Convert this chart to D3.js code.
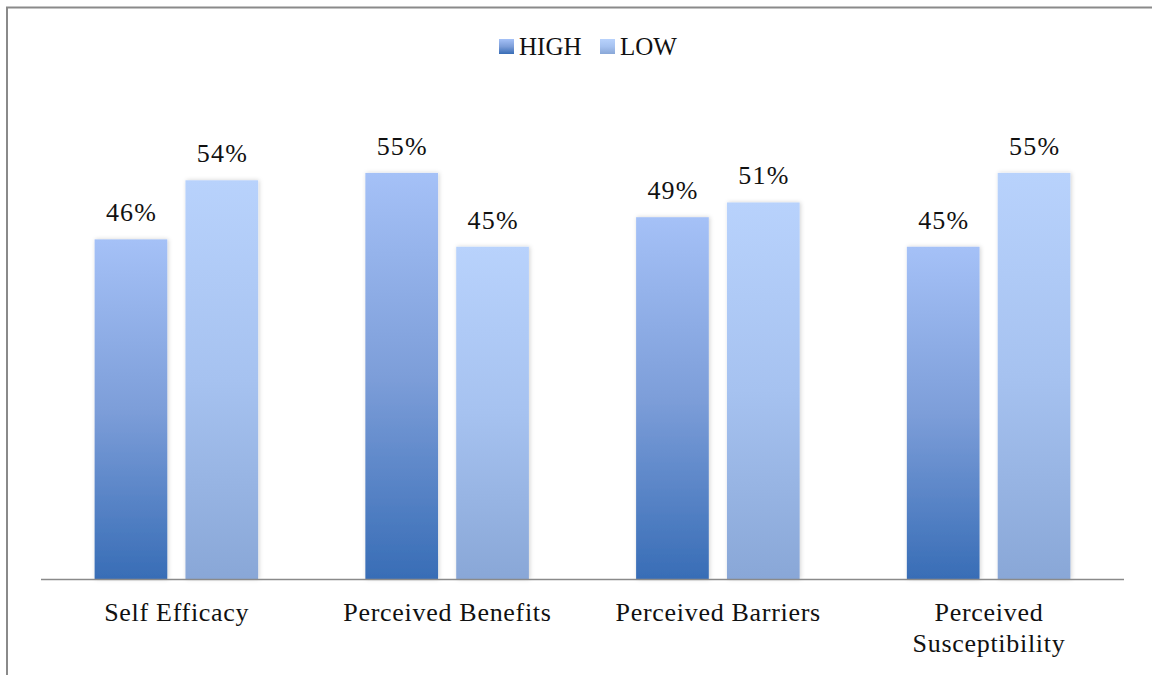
<!DOCTYPE html>
<html>
<head>
<meta charset="utf-8">
<script src="https://cdn.jsdelivr.net/npm/d3@7"></script>
<style>
  html, body { margin: 0; padding: 0; background: #fff; }
  svg { display: block; }
  text { font-family: "Liberation Serif", "Times New Roman", serif; fill: #111; }
</style>
</head>
<body>
<svg id="chart" width="1152" height="675"></svg>
<script>
// Health-belief constructs and share of respondents in each group
const categories = ["Self Efficacy", "Perceived Benefits", "Perceived Barriers", "Perceived Susceptibility"];
const seriesNames = ["HIGH", "LOW"];
const highValues = [46, 55, 49, 45];
const lowValues = [54, 45, 51, 55];

const W = 1152, H = 675;
const plot = { left: 41, right: 1124, top: 136, bottom: 579 };

const svg = d3.select("#chart");

// gradient fills, one per series, applied per bar (top light -> bottom dark)
const defs = svg.append("defs");
const gradStops = {
  HIGH: [["0%", "#a5c1f7"], ["50%", "#7d9ed9"], ["100%", "#386db6"]],
  LOW:  [["0%", "#b8d2fc"], ["50%", "#a6c2f0"], ["100%", "#89a7d7"]]
};
seriesNames.forEach(s => {
  const g = defs.append("linearGradient")
    .attr("id", "grad-" + s)
    .attr("x1", 0).attr("y1", 0).attr("x2", 0).attr("y2", 1);
  gradStops[s].forEach(([o, c]) => g.append("stop").attr("offset", o).attr("stop-color", c));
});
const shadow = defs.append("filter").attr("id", "soft").attr("x", "-20%").attr("y", "-5%").attr("width", "140%").attr("height", "110%");
shadow.append("feDropShadow").attr("dx", 1).attr("dy", 0).attr("stdDeviation", 2)
  .attr("flood-color", "#000").attr("flood-opacity", 0.18);

// outer frame (top and left edges visible)
svg.append("path")
  .attr("d", `M7,${H + 5} V7.5 H${W + 5}`)
  .attr("fill", "none").attr("stroke", "#8a8a8a").attr("stroke-width", 2);

const x0 = d3.scaleBand().domain(categories).range([plot.left, plot.right]).paddingInner(0).paddingOuter(0);
const x1 = d3.scaleBand().domain(seriesNames).range([0, x0.bandwidth()]).paddingInner(0.2).paddingOuter(0.59);
const y = d3.scaleLinear().domain([0, 60]).range([plot.bottom, plot.top]);

const rows = categories.map((c, i) => ({ cat: c, vals: [
  { s: "HIGH", v: highValues[i] }, { s: "LOW", v: lowValues[i] }
]}));

const groups = svg.append("g").selectAll("g").data(rows).join("g")
  .attr("transform", d => `translate(${x0(d.cat)},0)`);

groups.selectAll("rect").data(d => d.vals).join("rect")
  .attr("x", d => x1(d.s))
  .attr("y", d => y(d.v))
  .attr("width", x1.bandwidth())
  .attr("height", d => y(0) - y(d.v))
  .attr("fill", d => `url(#grad-${d.s})`)
  .attr("filter", "url(#soft)");

groups.selectAll("text.val").data(d => d.vals).join("text")
  .attr("class", "val")
  .attr("x", d => x1(d.s) + x1.bandwidth() / 2 + 0.6)
  .attr("y", d => y(d.v) - 18)
  .attr("text-anchor", "middle")
  .attr("font-size", 26)
  .attr("letter-spacing", 1.2)
  .text(d => d.v + "%");

// category axis
const xAxis = d3.axisBottom(x0).tickSize(0).tickPadding(0);
const axisG = svg.append("g").attr("transform", `translate(0,${plot.bottom})`).call(xAxis);
axisG.select(".domain").attr("stroke", "#8a8a8a").attr("stroke-width", 1.5)
  .attr("d", `M${plot.left},0.5H${plot.right}`);
axisG.selectAll(".tick text").remove();
axisG.selectAll(".tick").each(function(d) {
  const words = d.split(" ");
  const lines = d.length > 20 ? [words[0], words.slice(1).join(" ")] : [d];
  const t = d3.select(this).append("text")
    .attr("text-anchor", "middle")
    .attr("font-size", 26)
    .attr("letter-spacing", 0.7)
    .attr("fill", "#111");
  lines.forEach((ln, i) => t.append("tspan").attr("x", 0.35).attr("y", 42 + i * 31).text(ln));
});

// legend
const legend = svg.append("g").attr("transform", "translate(499,0)");
const legendItems = [{ s: "HIGH", x: 0 }, { s: "LOW", x: 101 }];
legendItems.forEach(it => {
  legend.append("rect").attr("x", it.x).attr("y", 39).attr("width", 15).attr("height", 15)
    .attr("fill", `url(#grad-${it.s})`);
  legend.append("text").attr("x", it.x + 20).attr("y", 55).attr("font-size", 25).text(it.s);
});
</script>
</body>
</html>
